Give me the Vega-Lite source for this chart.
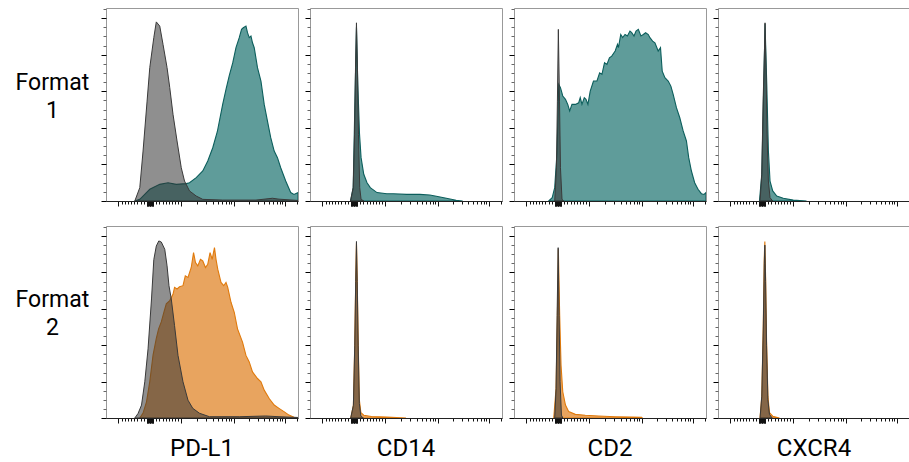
{
"$schema": "https://vega.github.io/schema/vega-lite/v6.json",
"padding": {"left": 15, "top": 7, "right": 0, "bottom": 0},
"data": {"values": [
{"marker":"PD-L1","format":"Format 1","sample":"control","x":150,"y":0},
{"marker":"PD-L1","format":"Format 1","sample":"control","x":176,"y":7.3},
{"marker":"PD-L1","format":"Format 1","sample":"control","x":193,"y":27.3},
{"marker":"PD-L1","format":"Format 1","sample":"control","x":214,"y":54.6},
{"marker":"PD-L1","format":"Format 1","sample":"control","x":228,"y":72.9},
{"marker":"PD-L1","format":"Format 1","sample":"control","x":249,"y":89.3},
{"marker":"PD-L1","format":"Format 1","sample":"control","x":262,"y":97.9},
{"marker":"PD-L1","format":"Format 1","sample":"control","x":280,"y":95.6},
{"marker":"PD-L1","format":"Format 1","sample":"control","x":297,"y":85.6},
{"marker":"PD-L1","format":"Format 1","sample":"control","x":318,"y":72.9},
{"marker":"PD-L1","format":"Format 1","sample":"control","x":332,"y":62},
{"marker":"PD-L1","format":"Format 1","sample":"control","x":349,"y":47.4},
{"marker":"PD-L1","format":"Format 1","sample":"control","x":370,"y":32.8},
{"marker":"PD-L1","format":"Format 1","sample":"control","x":392,"y":18.2},
{"marker":"PD-L1","format":"Format 1","sample":"control","x":409,"y":10.9},
{"marker":"PD-L1","format":"Format 1","sample":"control","x":435,"y":5.5},
{"marker":"PD-L1","format":"Format 1","sample":"control","x":470,"y":2.7},
{"marker":"PD-L1","format":"Format 1","sample":"control","x":504,"y":0.9},
{"marker":"PD-L1","format":"Format 1","sample":"control","x":608,"y":0.5},
{"marker":"PD-L1","format":"Format 1","sample":"control","x":781,"y":0.5},
{"marker":"PD-L1","format":"Format 1","sample":"control","x":867,"y":1.5},
{"marker":"PD-L1","format":"Format 1","sample":"control","x":901,"y":1},
{"marker":"PD-L1","format":"Format 1","sample":"control","x":1000,"y":0.3},
{"marker":"PD-L1","format":"Format 1","sample":"stain","x":150,"y":0},
{"marker":"PD-L1","format":"Format 1","sample":"stain","x":176,"y":0.9},
{"marker":"PD-L1","format":"Format 1","sample":"stain","x":228,"y":6.4},
{"marker":"PD-L1","format":"Format 1","sample":"stain","x":280,"y":9.1},
{"marker":"PD-L1","format":"Format 1","sample":"stain","x":323,"y":10},
{"marker":"PD-L1","format":"Format 1","sample":"stain","x":366,"y":9.1},
{"marker":"PD-L1","format":"Format 1","sample":"stain","x":418,"y":9.5},
{"marker":"PD-L1","format":"Format 1","sample":"stain","x":435,"y":10},
{"marker":"PD-L1","format":"Format 1","sample":"stain","x":470,"y":12.8},
{"marker":"PD-L1","format":"Format 1","sample":"stain","x":504,"y":16.4},
{"marker":"PD-L1","format":"Format 1","sample":"stain","x":530,"y":21.9},
{"marker":"PD-L1","format":"Format 1","sample":"stain","x":556,"y":29.1},
{"marker":"PD-L1","format":"Format 1","sample":"stain","x":580,"y":38},
{"marker":"PD-L1","format":"Format 1","sample":"stain","x":608,"y":53},
{"marker":"PD-L1","format":"Format 1","sample":"stain","x":625,"y":61},
{"marker":"PD-L1","format":"Format 1","sample":"stain","x":642,"y":68.5},
{"marker":"PD-L1","format":"Format 1","sample":"stain","x":660,"y":75.5},
{"marker":"PD-L1","format":"Format 1","sample":"stain","x":677,"y":83.8},
{"marker":"PD-L1","format":"Format 1","sample":"stain","x":694,"y":89.3},
{"marker":"PD-L1","format":"Format 1","sample":"stain","x":706,"y":93.8},
{"marker":"PD-L1","format":"Format 1","sample":"stain","x":715,"y":94.7},
{"marker":"PD-L1","format":"Format 1","sample":"stain","x":729,"y":95.6},
{"marker":"PD-L1","format":"Format 1","sample":"stain","x":737,"y":92},
{"marker":"PD-L1","format":"Format 1","sample":"stain","x":746,"y":89.3},
{"marker":"PD-L1","format":"Format 1","sample":"stain","x":755,"y":90.2},
{"marker":"PD-L1","format":"Format 1","sample":"stain","x":763,"y":86.5},
{"marker":"PD-L1","format":"Format 1","sample":"stain","x":772,"y":83.8},
{"marker":"PD-L1","format":"Format 1","sample":"stain","x":789,"y":72.9},
{"marker":"PD-L1","format":"Format 1","sample":"stain","x":807,"y":65.6},
{"marker":"PD-L1","format":"Format 1","sample":"stain","x":824,"y":52.8},
{"marker":"PD-L1","format":"Format 1","sample":"stain","x":841,"y":43.7},
{"marker":"PD-L1","format":"Format 1","sample":"stain","x":858,"y":34.6},
{"marker":"PD-L1","format":"Format 1","sample":"stain","x":876,"y":27.3},
{"marker":"PD-L1","format":"Format 1","sample":"stain","x":893,"y":23.7},
{"marker":"PD-L1","format":"Format 1","sample":"stain","x":910,"y":18.2},
{"marker":"PD-L1","format":"Format 1","sample":"stain","x":936,"y":10.9},
{"marker":"PD-L1","format":"Format 1","sample":"stain","x":962,"y":4.6},
{"marker":"PD-L1","format":"Format 1","sample":"stain","x":979,"y":3.6},
{"marker":"PD-L1","format":"Format 1","sample":"stain","x":1000,"y":4.6},
{"marker":"PD-L1","format":"Format 2","sample":"control","x":150,"y":0},
{"marker":"PD-L1","format":"Format 2","sample":"control","x":167,"y":2.5},
{"marker":"PD-L1","format":"Format 2","sample":"control","x":185,"y":7.1},
{"marker":"PD-L1","format":"Format 2","sample":"control","x":202,"y":19.9},
{"marker":"PD-L1","format":"Format 2","sample":"control","x":219,"y":38},
{"marker":"PD-L1","format":"Format 2","sample":"control","x":237,"y":65.4},
{"marker":"PD-L1","format":"Format 2","sample":"control","x":249,"y":87},
{"marker":"PD-L1","format":"Format 2","sample":"control","x":262,"y":94.5},
{"marker":"PD-L1","format":"Format 2","sample":"control","x":275,"y":97.3},
{"marker":"PD-L1","format":"Format 2","sample":"control","x":288,"y":96.7},
{"marker":"PD-L1","format":"Format 2","sample":"control","x":306,"y":92.7},
{"marker":"PD-L1","format":"Format 2","sample":"control","x":318,"y":83.6},
{"marker":"PD-L1","format":"Format 2","sample":"control","x":328,"y":72.7},
{"marker":"PD-L1","format":"Format 2","sample":"control","x":340,"y":65.4},
{"marker":"PD-L1","format":"Format 2","sample":"control","x":357,"y":50.8},
{"marker":"PD-L1","format":"Format 2","sample":"control","x":375,"y":34.4},
{"marker":"PD-L1","format":"Format 2","sample":"control","x":401,"y":19.9},
{"marker":"PD-L1","format":"Format 2","sample":"control","x":427,"y":9.8},
{"marker":"PD-L1","format":"Format 2","sample":"control","x":452,"y":5.3},
{"marker":"PD-L1","format":"Format 2","sample":"control","x":487,"y":2.6},
{"marker":"PD-L1","format":"Format 2","sample":"control","x":539,"y":0.7},
{"marker":"PD-L1","format":"Format 2","sample":"control","x":694,"y":0.7},
{"marker":"PD-L1","format":"Format 2","sample":"control","x":832,"y":1.1},
{"marker":"PD-L1","format":"Format 2","sample":"control","x":901,"y":0.7},
{"marker":"PD-L1","format":"Format 2","sample":"control","x":1000,"y":0.3},
{"marker":"PD-L1","format":"Format 2","sample":"stain","x":176,"y":0},
{"marker":"PD-L1","format":"Format 2","sample":"stain","x":193,"y":2.7},
{"marker":"PD-L1","format":"Format 2","sample":"stain","x":211,"y":8.9},
{"marker":"PD-L1","format":"Format 2","sample":"stain","x":228,"y":20},
{"marker":"PD-L1","format":"Format 2","sample":"stain","x":245,"y":34.6},
{"marker":"PD-L1","format":"Format 2","sample":"stain","x":262,"y":43.7},
{"marker":"PD-L1","format":"Format 2","sample":"stain","x":274,"y":49},
{"marker":"PD-L1","format":"Format 2","sample":"stain","x":288,"y":52.8},
{"marker":"PD-L1","format":"Format 2","sample":"stain","x":302,"y":58.3},
{"marker":"PD-L1","format":"Format 2","sample":"stain","x":314,"y":62.7},
{"marker":"PD-L1","format":"Format 2","sample":"stain","x":332,"y":64.5},
{"marker":"PD-L1","format":"Format 2","sample":"stain","x":349,"y":68},
{"marker":"PD-L1","format":"Format 2","sample":"stain","x":357,"y":71.8},
{"marker":"PD-L1","format":"Format 2","sample":"stain","x":370,"y":70.9},
{"marker":"PD-L1","format":"Format 2","sample":"stain","x":383,"y":72.1},
{"marker":"PD-L1","format":"Format 2","sample":"stain","x":401,"y":72.7},
{"marker":"PD-L1","format":"Format 2","sample":"stain","x":413,"y":78.1},
{"marker":"PD-L1","format":"Format 2","sample":"stain","x":427,"y":77.2},
{"marker":"PD-L1","format":"Format 2","sample":"stain","x":444,"y":82.7},
{"marker":"PD-L1","format":"Format 2","sample":"stain","x":456,"y":90.9},
{"marker":"PD-L1","format":"Format 2","sample":"stain","x":466,"y":85.4},
{"marker":"PD-L1","format":"Format 2","sample":"stain","x":478,"y":83.6},
{"marker":"PD-L1","format":"Format 2","sample":"stain","x":492,"y":87.2},
{"marker":"PD-L1","format":"Format 2","sample":"stain","x":504,"y":86.3},
{"marker":"PD-L1","format":"Format 2","sample":"stain","x":518,"y":82.7},
{"marker":"PD-L1","format":"Format 2","sample":"stain","x":530,"y":84.5},
{"marker":"PD-L1","format":"Format 2","sample":"stain","x":542,"y":90.9},
{"marker":"PD-L1","format":"Format 2","sample":"stain","x":553,"y":87.2},
{"marker":"PD-L1","format":"Format 2","sample":"stain","x":565,"y":93.6},
{"marker":"PD-L1","format":"Format 2","sample":"stain","x":573,"y":87.2},
{"marker":"PD-L1","format":"Format 2","sample":"stain","x":582,"y":81.8},
{"marker":"PD-L1","format":"Format 2","sample":"stain","x":599,"y":74.5},
{"marker":"PD-L1","format":"Format 2","sample":"stain","x":613,"y":72.7},
{"marker":"PD-L1","format":"Format 2","sample":"stain","x":625,"y":74.5},
{"marker":"PD-L1","format":"Format 2","sample":"stain","x":634,"y":71.8},
{"marker":"PD-L1","format":"Format 2","sample":"stain","x":651,"y":63.6},
{"marker":"PD-L1","format":"Format 2","sample":"stain","x":668,"y":58.1},
{"marker":"PD-L1","format":"Format 2","sample":"stain","x":685,"y":49},
{"marker":"PD-L1","format":"Format 2","sample":"stain","x":711,"y":41.7},
{"marker":"PD-L1","format":"Format 2","sample":"stain","x":729,"y":34.4},
{"marker":"PD-L1","format":"Format 2","sample":"stain","x":746,"y":30.8},
{"marker":"PD-L1","format":"Format 2","sample":"stain","x":763,"y":25.3},
{"marker":"PD-L1","format":"Format 2","sample":"stain","x":789,"y":21.7},
{"marker":"PD-L1","format":"Format 2","sample":"stain","x":807,"y":19.9},
{"marker":"PD-L1","format":"Format 2","sample":"stain","x":824,"y":15.3},
{"marker":"PD-L1","format":"Format 2","sample":"stain","x":850,"y":10.7},
{"marker":"PD-L1","format":"Format 2","sample":"stain","x":876,"y":7.1},
{"marker":"PD-L1","format":"Format 2","sample":"stain","x":901,"y":5.3},
{"marker":"PD-L1","format":"Format 2","sample":"stain","x":927,"y":3.5},
{"marker":"PD-L1","format":"Format 2","sample":"stain","x":953,"y":1.6},
{"marker":"PD-L1","format":"Format 2","sample":"stain","x":979,"y":0.4},
{"marker":"PD-L1","format":"Format 2","sample":"stain","x":1000,"y":0},
{"marker":"CD14","format":"Format 1","sample":"control","x":211,"y":0},
{"marker":"CD14","format":"Format 1","sample":"control","x":225,"y":7.3},
{"marker":"CD14","format":"Format 1","sample":"control","x":232,"y":36.4},
{"marker":"CD14","format":"Format 1","sample":"control","x":237,"y":72.9},
{"marker":"CD14","format":"Format 1","sample":"control","x":242,"y":97.4},
{"marker":"CD14","format":"Format 1","sample":"control","x":247,"y":72.9},
{"marker":"CD14","format":"Format 1","sample":"control","x":252.5,"y":36.4},
{"marker":"CD14","format":"Format 1","sample":"control","x":259,"y":7.3},
{"marker":"CD14","format":"Format 1","sample":"control","x":266,"y":0.9},
{"marker":"CD14","format":"Format 1","sample":"control","x":280,"y":0},
{"marker":"CD14","format":"Format 1","sample":"stain","x":211,"y":0},
{"marker":"CD14","format":"Format 1","sample":"stain","x":225,"y":7.3},
{"marker":"CD14","format":"Format 1","sample":"stain","x":234,"y":54.6},
{"marker":"CD14","format":"Format 1","sample":"stain","x":242,"y":95},
{"marker":"CD14","format":"Format 1","sample":"stain","x":249,"y":63.8},
{"marker":"CD14","format":"Format 1","sample":"stain","x":258,"y":36.4},
{"marker":"CD14","format":"Format 1","sample":"stain","x":266,"y":23.7},
{"marker":"CD14","format":"Format 1","sample":"stain","x":280,"y":14.6},
{"marker":"CD14","format":"Format 1","sample":"stain","x":297,"y":10},
{"marker":"CD14","format":"Format 1","sample":"stain","x":314,"y":7.3},
{"marker":"CD14","format":"Format 1","sample":"stain","x":349,"y":4.6},
{"marker":"CD14","format":"Format 1","sample":"stain","x":400,"y":4},
{"marker":"CD14","format":"Format 1","sample":"stain","x":435,"y":4},
{"marker":"CD14","format":"Format 1","sample":"stain","x":503,"y":3.6},
{"marker":"CD14","format":"Format 1","sample":"stain","x":572,"y":3.6},
{"marker":"CD14","format":"Format 1","sample":"stain","x":624,"y":3.3},
{"marker":"CD14","format":"Format 1","sample":"stain","x":658,"y":2.6},
{"marker":"CD14","format":"Format 1","sample":"stain","x":710,"y":1.5},
{"marker":"CD14","format":"Format 1","sample":"stain","x":761,"y":0.4},
{"marker":"CD14","format":"Format 1","sample":"stain","x":795,"y":0},
{"marker":"CD14","format":"Format 2","sample":"control","x":212,"y":0},
{"marker":"CD14","format":"Format 2","sample":"control","x":226,"y":7},
{"marker":"CD14","format":"Format 2","sample":"control","x":233,"y":40},
{"marker":"CD14","format":"Format 2","sample":"control","x":238,"y":75},
{"marker":"CD14","format":"Format 2","sample":"control","x":242,"y":97},
{"marker":"CD14","format":"Format 2","sample":"control","x":246,"y":75},
{"marker":"CD14","format":"Format 2","sample":"control","x":251,"y":40},
{"marker":"CD14","format":"Format 2","sample":"control","x":257,"y":8},
{"marker":"CD14","format":"Format 2","sample":"control","x":265,"y":1},
{"marker":"CD14","format":"Format 2","sample":"control","x":278,"y":0},
{"marker":"CD14","format":"Format 2","sample":"stain","x":212,"y":0},
{"marker":"CD14","format":"Format 2","sample":"stain","x":226,"y":7},
{"marker":"CD14","format":"Format 2","sample":"stain","x":233,"y":40},
{"marker":"CD14","format":"Format 2","sample":"stain","x":238,"y":75},
{"marker":"CD14","format":"Format 2","sample":"stain","x":242,"y":96},
{"marker":"CD14","format":"Format 2","sample":"stain","x":246,"y":76},
{"marker":"CD14","format":"Format 2","sample":"stain","x":251,"y":42},
{"marker":"CD14","format":"Format 2","sample":"stain","x":257,"y":10},
{"marker":"CD14","format":"Format 2","sample":"stain","x":265,"y":3},
{"marker":"CD14","format":"Format 2","sample":"stain","x":280,"y":1.5},
{"marker":"CD14","format":"Format 2","sample":"stain","x":320,"y":0.8},
{"marker":"CD14","format":"Format 2","sample":"stain","x":400,"y":0.5},
{"marker":"CD14","format":"Format 2","sample":"stain","x":500,"y":0},
{"marker":"CD2","format":"Format 1","sample":"control","x":212,"y":0},
{"marker":"CD2","format":"Format 1","sample":"control","x":221,"y":18.2},
{"marker":"CD2","format":"Format 1","sample":"control","x":226,"y":54.6},
{"marker":"CD2","format":"Format 1","sample":"control","x":231,"y":93.8},
{"marker":"CD2","format":"Format 1","sample":"control","x":237,"y":54.6},
{"marker":"CD2","format":"Format 1","sample":"control","x":242,"y":18.2},
{"marker":"CD2","format":"Format 1","sample":"control","x":250,"y":0.9},
{"marker":"CD2","format":"Format 1","sample":"control","x":259,"y":0},
{"marker":"CD2","format":"Format 1","sample":"stain","x":181,"y":0},
{"marker":"CD2","format":"Format 1","sample":"stain","x":199,"y":1.8},
{"marker":"CD2","format":"Format 1","sample":"stain","x":212,"y":7.3},
{"marker":"CD2","format":"Format 1","sample":"stain","x":224.5,"y":27.3},
{"marker":"CD2","format":"Format 1","sample":"stain","x":233,"y":63.8},
{"marker":"CD2","format":"Format 1","sample":"stain","x":242,"y":62},
{"marker":"CD2","format":"Format 1","sample":"stain","x":254,"y":57.4},
{"marker":"CD2","format":"Format 1","sample":"stain","x":268,"y":55.6},
{"marker":"CD2","format":"Format 1","sample":"stain","x":280,"y":52.8},
{"marker":"CD2","format":"Format 1","sample":"stain","x":290,"y":49.2},
{"marker":"CD2","format":"Format 1","sample":"stain","x":302,"y":52.8},
{"marker":"CD2","format":"Format 1","sample":"stain","x":320,"y":52.8},
{"marker":"CD2","format":"Format 1","sample":"stain","x":337,"y":53.7},
{"marker":"CD2","format":"Format 1","sample":"stain","x":345,"y":56.5},
{"marker":"CD2","format":"Format 1","sample":"stain","x":354,"y":52.8},
{"marker":"CD2","format":"Format 1","sample":"stain","x":366,"y":56.5},
{"marker":"CD2","format":"Format 1","sample":"stain","x":375,"y":55.6},
{"marker":"CD2","format":"Format 1","sample":"stain","x":385,"y":52.8},
{"marker":"CD2","format":"Format 1","sample":"stain","x":397,"y":60.1},
{"marker":"CD2","format":"Format 1","sample":"stain","x":414,"y":65.6},
{"marker":"CD2","format":"Format 1","sample":"stain","x":432,"y":65.6},
{"marker":"CD2","format":"Format 1","sample":"stain","x":446,"y":70.1},
{"marker":"CD2","format":"Format 1","sample":"stain","x":458,"y":69.2},
{"marker":"CD2","format":"Format 1","sample":"stain","x":471.5,"y":75.6},
{"marker":"CD2","format":"Format 1","sample":"stain","x":484,"y":74.7},
{"marker":"CD2","format":"Format 1","sample":"stain","x":497,"y":78.3},
{"marker":"CD2","format":"Format 1","sample":"stain","x":509,"y":79.2},
{"marker":"CD2","format":"Format 1","sample":"stain","x":527,"y":82},
{"marker":"CD2","format":"Format 1","sample":"stain","x":539,"y":85.6},
{"marker":"CD2","format":"Format 1","sample":"stain","x":544,"y":83.8},
{"marker":"CD2","format":"Format 1","sample":"stain","x":556,"y":91},
{"marker":"CD2","format":"Format 1","sample":"stain","x":566,"y":89.3},
{"marker":"CD2","format":"Format 1","sample":"stain","x":578.5,"y":91},
{"marker":"CD2","format":"Format 1","sample":"stain","x":590.6,"y":90.2},
{"marker":"CD2","format":"Format 1","sample":"stain","x":604,"y":92.9},
{"marker":"CD2","format":"Format 1","sample":"stain","x":613,"y":92},
{"marker":"CD2","format":"Format 1","sample":"stain","x":625,"y":90.2},
{"marker":"CD2","format":"Format 1","sample":"stain","x":635.5,"y":92.9},
{"marker":"CD2","format":"Format 1","sample":"stain","x":647.6,"y":93.8},
{"marker":"CD2","format":"Format 1","sample":"stain","x":661,"y":90.2},
{"marker":"CD2","format":"Format 1","sample":"stain","x":673.5,"y":91},
{"marker":"CD2","format":"Format 1","sample":"stain","x":685.6,"y":92},
{"marker":"CD2","format":"Format 1","sample":"stain","x":699.4,"y":91},
{"marker":"CD2","format":"Format 1","sample":"stain","x":708,"y":89.3},
{"marker":"CD2","format":"Format 1","sample":"stain","x":721.9,"y":87.4},
{"marker":"CD2","format":"Format 1","sample":"stain","x":734,"y":86.5},
{"marker":"CD2","format":"Format 1","sample":"stain","x":751,"y":82},
{"marker":"CD2","format":"Format 1","sample":"stain","x":763,"y":83.8},
{"marker":"CD2","format":"Format 1","sample":"stain","x":772,"y":71},
{"marker":"CD2","format":"Format 1","sample":"stain","x":786,"y":67.4},
{"marker":"CD2","format":"Format 1","sample":"stain","x":803,"y":65.6},
{"marker":"CD2","format":"Format 1","sample":"stain","x":817,"y":62.8},
{"marker":"CD2","format":"Format 1","sample":"stain","x":829,"y":58.3},
{"marker":"CD2","format":"Format 1","sample":"stain","x":846,"y":51},
{"marker":"CD2","format":"Format 1","sample":"stain","x":863.5,"y":45.5},
{"marker":"CD2","format":"Format 1","sample":"stain","x":881,"y":38.3},
{"marker":"CD2","format":"Format 1","sample":"stain","x":898,"y":32.8},
{"marker":"CD2","format":"Format 1","sample":"stain","x":910,"y":23.7},
{"marker":"CD2","format":"Format 1","sample":"stain","x":924,"y":16.4},
{"marker":"CD2","format":"Format 1","sample":"stain","x":941,"y":10},
{"marker":"CD2","format":"Format 1","sample":"stain","x":958.5,"y":6.4},
{"marker":"CD2","format":"Format 1","sample":"stain","x":976,"y":4},
{"marker":"CD2","format":"Format 1","sample":"stain","x":990,"y":3.6},
{"marker":"CD2","format":"Format 1","sample":"stain","x":1000,"y":4.6},
{"marker":"CD2","format":"Format 2","sample":"control","x":212,"y":0},
{"marker":"CD2","format":"Format 2","sample":"control","x":219,"y":16.2},
{"marker":"CD2","format":"Format 2","sample":"control","x":224.5,"y":56.3},
{"marker":"CD2","format":"Format 2","sample":"control","x":230,"y":93.6},
{"marker":"CD2","format":"Format 2","sample":"control","x":235,"y":56.3},
{"marker":"CD2","format":"Format 2","sample":"control","x":240,"y":19.9},
{"marker":"CD2","format":"Format 2","sample":"control","x":247,"y":1.6},
{"marker":"CD2","format":"Format 2","sample":"control","x":254,"y":0},
{"marker":"CD2","format":"Format 2","sample":"stain","x":207,"y":0},
{"marker":"CD2","format":"Format 2","sample":"stain","x":219,"y":16.2},
{"marker":"CD2","format":"Format 2","sample":"stain","x":226,"y":56.3},
{"marker":"CD2","format":"Format 2","sample":"stain","x":231,"y":92.7},
{"marker":"CD2","format":"Format 2","sample":"stain","x":238,"y":56.3},
{"marker":"CD2","format":"Format 2","sample":"stain","x":245,"y":29},
{"marker":"CD2","format":"Format 2","sample":"stain","x":254,"y":14.4},
{"marker":"CD2","format":"Format 2","sample":"stain","x":268,"y":7.1},
{"marker":"CD2","format":"Format 2","sample":"stain","x":285,"y":3.5},
{"marker":"CD2","format":"Format 2","sample":"stain","x":319.5,"y":2},
{"marker":"CD2","format":"Format 2","sample":"stain","x":371,"y":1.5},
{"marker":"CD2","format":"Format 2","sample":"stain","x":440,"y":1.1},
{"marker":"CD2","format":"Format 2","sample":"stain","x":527,"y":0.7},
{"marker":"CD2","format":"Format 2","sample":"stain","x":613,"y":0.5},
{"marker":"CD2","format":"Format 2","sample":"stain","x":665,"y":0.4},
{"marker":"CD2","format":"Format 2","sample":"stain","x":668,"y":0},
{"marker":"CXCR4","format":"Format 1","sample":"control","x":219,"y":0},
{"marker":"CXCR4","format":"Format 1","sample":"control","x":228,"y":14.6},
{"marker":"CXCR4","format":"Format 1","sample":"control","x":235,"y":54.6},
{"marker":"CXCR4","format":"Format 1","sample":"control","x":242,"y":82},
{"marker":"CXCR4","format":"Format 1","sample":"control","x":245,"y":97.4},
{"marker":"CXCR4","format":"Format 1","sample":"control","x":250,"y":72.9},
{"marker":"CXCR4","format":"Format 1","sample":"control","x":255.6,"y":36.4},
{"marker":"CXCR4","format":"Format 1","sample":"control","x":262.5,"y":10.9},
{"marker":"CXCR4","format":"Format 1","sample":"control","x":271,"y":1.8},
{"marker":"CXCR4","format":"Format 1","sample":"control","x":285,"y":0},
{"marker":"CXCR4","format":"Format 1","sample":"stain","x":216,"y":0},
{"marker":"CXCR4","format":"Format 1","sample":"stain","x":228,"y":14.6},
{"marker":"CXCR4","format":"Format 1","sample":"stain","x":236.6,"y":54.6},
{"marker":"CXCR4","format":"Format 1","sample":"stain","x":245,"y":96.9},
{"marker":"CXCR4","format":"Format 1","sample":"stain","x":254,"y":63.8},
{"marker":"CXCR4","format":"Format 1","sample":"stain","x":262.5,"y":27.3},
{"marker":"CXCR4","format":"Format 1","sample":"stain","x":271,"y":10.9},
{"marker":"CXCR4","format":"Format 1","sample":"stain","x":285,"y":5.5},
{"marker":"CXCR4","format":"Format 1","sample":"stain","x":306,"y":2.7},
{"marker":"CXCR4","format":"Format 1","sample":"stain","x":340,"y":1.5},
{"marker":"CXCR4","format":"Format 1","sample":"stain","x":392,"y":0.5},
{"marker":"CXCR4","format":"Format 1","sample":"stain","x":461,"y":0},
{"marker":"CXCR4","format":"Format 2","sample":"control","x":219,"y":0},
{"marker":"CXCR4","format":"Format 2","sample":"control","x":228,"y":12},
{"marker":"CXCR4","format":"Format 2","sample":"control","x":236,"y":50},
{"marker":"CXCR4","format":"Format 2","sample":"control","x":241,"y":85},
{"marker":"CXCR4","format":"Format 2","sample":"control","x":244,"y":95},
{"marker":"CXCR4","format":"Format 2","sample":"control","x":248,"y":75},
{"marker":"CXCR4","format":"Format 2","sample":"control","x":253,"y":40},
{"marker":"CXCR4","format":"Format 2","sample":"control","x":260,"y":10},
{"marker":"CXCR4","format":"Format 2","sample":"control","x":268,"y":2},
{"marker":"CXCR4","format":"Format 2","sample":"control","x":282,"y":0},
{"marker":"CXCR4","format":"Format 2","sample":"stain","x":219,"y":0},
{"marker":"CXCR4","format":"Format 2","sample":"stain","x":228,"y":12},
{"marker":"CXCR4","format":"Format 2","sample":"stain","x":236,"y":52},
{"marker":"CXCR4","format":"Format 2","sample":"stain","x":241,"y":88},
{"marker":"CXCR4","format":"Format 2","sample":"stain","x":244,"y":97},
{"marker":"CXCR4","format":"Format 2","sample":"stain","x":248,"y":77},
{"marker":"CXCR4","format":"Format 2","sample":"stain","x":253,"y":42},
{"marker":"CXCR4","format":"Format 2","sample":"stain","x":260,"y":12},
{"marker":"CXCR4","format":"Format 2","sample":"stain","x":268,"y":3},
{"marker":"CXCR4","format":"Format 2","sample":"stain","x":285,"y":1},
{"marker":"CXCR4","format":"Format 2","sample":"stain","x":320,"y":0}
]},
"spacing": 18,
"vconcat": [
 {
  "transform": [{"filter": "datum.format === 'Format 1'"}],
  "title": {"text": ["Format", "1"], "orient": "left", "angle": 0, "align": "center", "baseline": "middle", "anchor": "middle", "offset": -26, "dy": -24, "lineHeight": 28, "font": "Roboto", "fontSize": 23, "fontWeight": "normal", "color": "#000"},
  "facet": {"column": {"field": "marker", "type": "nominal", "sort": ["PD-L1", "CD14", "CD2", "CXCR4"], "header": {"title": null, "labels": false}}},
  "spacing": 5,
  "resolve": {"axis": {"x": "independent", "y": "independent"}},
  "spec": {
   "width": 192,
   "height": 193,
   "encoding": {
    "x": {"field": "x", "type": "quantitative", "scale": {"domain": [0, 1000], "nice": false, "zero": false},
      "axis": {"title": null, "labels": false, "grid": false, "domainColor": "#222", "domainWidth": 1,
        "values": [65, 81.4, 97.8, 114.2, 130.6, 147, 163.4, 179.8, 196.2, 212, 215, 218, 221, 224, 227, 229, 231, 234, 237, 240, 243, 246, 261.8, 278.2, 294.6, 311, 327.4, 343.8, 360.2, 376.6, 392, 474, 522, 556, 583, 604, 623, 638.5, 652.5, 665, 745, 791, 824.5, 850, 871, 889, 904, 917.6, 930, 993],
        "tickColor": "#111",
        "tickSize": {"condition": {"test": "indexof([65, 392, 665, 930], datum.value) >= 0 || abs(datum.value - 229) < 18", "value": 5}, "value": 3}}},
    "y": {"field": "y", "type": "quantitative", "scale": {"domain": [0, 105.5], "nice": false, "zero": true},
      "axis": {"title": null, "labels": false, "grid": false, "domain": false,
        "values": [0, 5, 10, 15, 20, 25, 30, 35, 40, 45, 50, 55, 60, 65, 70, 75, 80, 85, 90, 95, 100, 105],
        "tickColor": {"condition": {"test": "datum.value % 20 === 0", "value": "#000"}, "value": "#666"},
        "tickSize": {"condition": {"test": "datum.value % 20 === 0", "value": 5}, "value": 3}}}
   },
   "layer": [
    {"transform": [{"filter": "datum.sample === 'stain'"}],
     "mark": {"type": "area", "clip": true, "strokeWidth": 1.1},
     "encoding": {
       "fill": {"field": "format", "type": "nominal", "scale": {"domain": ["Format 1", "Format 2"], "range": ["#5f9c9a", "#e8a45f"]}, "legend": null},
       "stroke": {"field": "format", "type": "nominal", "scale": {"domain": ["Format 1", "Format 2"], "range": ["#0c5e5c", "#e07a0c"]}, "legend": null}
     }},
    {"transform": [{"filter": "datum.sample === 'control'"}],
     "mark": {"type": "area", "clip": true, "fill": "#333333", "fillOpacity": 0.55, "stroke": "#3a3a3a", "strokeWidth": 1}}
   ]
  }
 },
 {
  "transform": [{"filter": "datum.format === 'Format 2'"}],
  "title": {"text": ["Format", "2"], "orient": "left", "angle": 0, "align": "center", "baseline": "middle", "anchor": "middle", "offset": -26, "dy": -43, "lineHeight": 28, "font": "Roboto", "fontSize": 23, "fontWeight": "normal", "color": "#000"},
  "facet": {"column": {"field": "marker", "type": "nominal", "sort": ["PD-L1", "CD14", "CD2", "CXCR4"], "header": {"title": null, "labelOrient": "bottom", "labelPadding": 13}}},
  "spacing": 5,
  "resolve": {"axis": {"x": "independent", "y": "independent"}},
  "spec": {
   "width": 192,
   "height": 192,
   "encoding": {
    "x": {"field": "x", "type": "quantitative", "scale": {"domain": [0, 1000], "nice": false, "zero": false},
      "axis": {"title": null, "labels": false, "grid": false, "domainColor": "#222", "domainWidth": 1,
        "values": [65, 81.4, 97.8, 114.2, 130.6, 147, 163.4, 179.8, 196.2, 212, 215, 218, 221, 224, 227, 229, 231, 234, 237, 240, 243, 246, 261.8, 278.2, 294.6, 311, 327.4, 343.8, 360.2, 376.6, 392, 474, 522, 556, 583, 604, 623, 638.5, 652.5, 665, 745, 791, 824.5, 850, 871, 889, 904, 917.6, 930, 993],
        "tickColor": "#111",
        "tickSize": {"condition": {"test": "indexof([65, 392, 665, 930], datum.value) >= 0 || abs(datum.value - 229) < 18", "value": 5}, "value": 3}}},
    "y": {"field": "y", "type": "quantitative", "scale": {"domain": [0, 105.5], "nice": false, "zero": true},
      "axis": {"title": null, "labels": false, "grid": false, "domain": false,
        "values": [0, 5, 10, 15, 20, 25, 30, 35, 40, 45, 50, 55, 60, 65, 70, 75, 80, 85, 90, 95, 100, 105],
        "tickColor": {"condition": {"test": "datum.value % 20 === 0", "value": "#000"}, "value": "#666"},
        "tickSize": {"condition": {"test": "datum.value % 20 === 0", "value": 5}, "value": 3}}}
   },
   "layer": [
    {"transform": [{"filter": "datum.sample === 'stain'"}],
     "mark": {"type": "area", "clip": true, "strokeWidth": 1.1},
     "encoding": {
       "fill": {"field": "format", "type": "nominal", "scale": {"domain": ["Format 1", "Format 2"], "range": ["#5f9c9a", "#e8a45f"]}, "legend": null},
       "stroke": {"field": "format", "type": "nominal", "scale": {"domain": ["Format 1", "Format 2"], "range": ["#0c5e5c", "#e07a0c"]}, "legend": null}
     }},
    {"transform": [{"filter": "datum.sample === 'control'"}],
     "mark": {"type": "area", "clip": true, "fill": "#333333", "fillOpacity": 0.55, "stroke": "#3a3a3a", "strokeWidth": 1}}
   ]
  }
 }
],
"config": {
  "view": {"stroke": "#999", "strokeWidth": 1},
  "header": {"labelFont": "Roboto", "labelFontSize": 24, "labelColor": "#000"}
}
}
